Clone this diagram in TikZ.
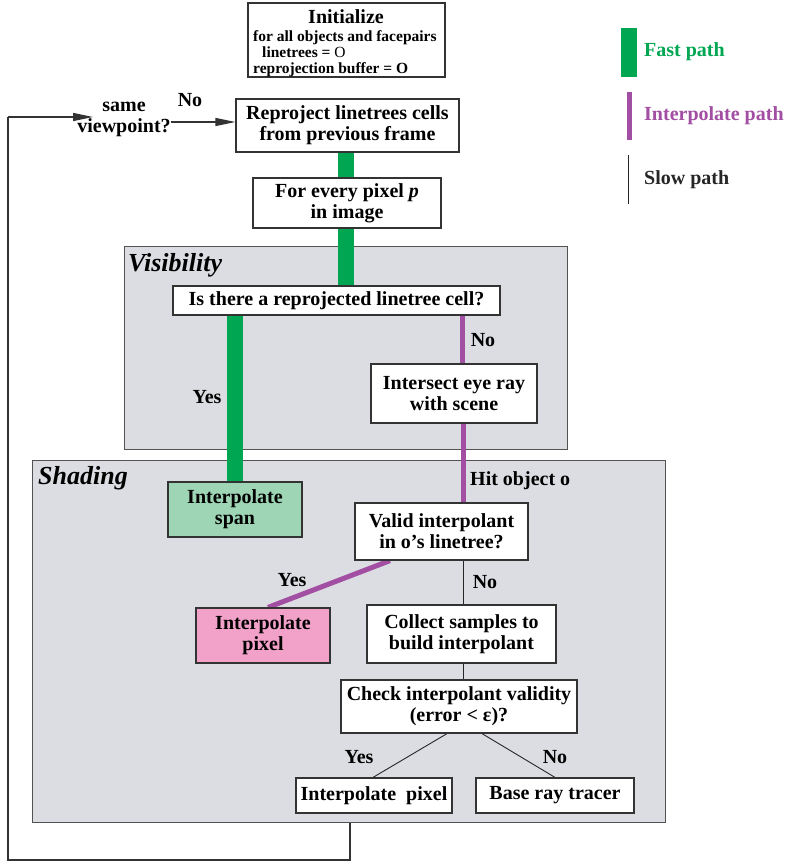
\documentclass[tikz,border=0pt]{standalone}
\usepackage{fontspec}
\setmainfont{Liberation Serif}
\usetikzlibrary{arrows.meta,calc}
\pgfdeclarelayer{back}\pgfdeclarelayer{mid}
\pgfsetlayers{back,mid,main}
\definecolor{fastg}{HTML}{00A651}
\definecolor{interp}{HTML}{A24EA2}
\definecolor{regfill}{HTML}{DCDDE2}
\definecolor{spanfill}{HTML}{9DD5B5}
\definecolor{pixfill}{HTML}{F2A1C8}
\definecolor{edge}{HTML}{333333}
\begin{document}
\begin{tikzpicture}[x=1pt,y=-1pt,
 box/.style={draw=edge,line width=1.2pt,fill=white,align=center,inner sep=0pt,font=\fontsize{20}{21}\selectfont\bfseries},
 lbl/.style={inner sep=0pt,font=\fontsize{20}{21}\selectfont\bfseries},
 reglbl/.style={inner sep=0pt,anchor=west,font=\fontsize{26}{28}\selectfont\bfseries\itshape},
 region/.style={draw=edge!85,line width=1pt,fill=regfill,inner sep=0pt,anchor=north west},
 fast/.style={fastg,line width=16pt},
 ipath/.style={interp,line width=5pt},
 slow/.style={black!85,line width=0.9pt},
 loopln/.style={edge,line width=1.3pt},
 tip/.style={-{Triangle[length=20pt,width=8pt]}}]
\useasboundingbox (0,0) rectangle (787,862);

% regions
\begin{pgfonlayer}{back}
\node[region,minimum width=443pt,minimum height=203pt] (vis) at (124,246) {};
\node[region,minimum width=633pt,minimum height=362pt] (shade) at (32,460) {};
\end{pgfonlayer}
\node[reglbl] (vislbl) at (128,265) {Visibility};
\node[reglbl] (shlbl) at (38,478) {Shading};

% boxes
\node[box,minimum width=197pt,minimum height=74pt] (init) at (346.5,40) {};
\node[lbl,font=\fontsize{20}{21}\selectfont\bfseries] (inittitle) at (346,17) {Initialize};
\node[lbl,anchor=north west,align=left,font=\fontsize{15.5}{16.2}\selectfont\bfseries] (inittext) at (253,30)
  {for all objects and facepairs\\\hspace*{9pt}linetrees = \textmd{O}\\reprojection buffer = O};
\node[box,minimum width=223pt,minimum height=53pt] (reproj) at (347.5,125.5) {Reproject linetrees cells\\from previous frame};
\node[box,minimum width=188pt,minimum height=50pt] (pixel) at (347,203) {For every pixel \textit{p}\\in image};
\node[box,minimum width=327pt,minimum height=29pt] (isthere) at (336.5,300.5) {Is there a reprojected linetree cell?};
\node[box,minimum width=166pt,minimum height=59pt] (intersect) at (454,393.5) {Intersect eye ray\\with scene};
\node[box,fill=spanfill,minimum width=134pt,minimum height=55pt] (span) at (235,509.5) {Interpolate\\span};
\node[box,minimum width=173pt,minimum height=57pt] (valid) at (441.5,531.5) {Valid interpolant\\in o’s linetree?};
\node[box,fill=pixfill,minimum width=134pt,minimum height=55pt] (ipix) at (263,635.5) {Interpolate\\pixel};
\node[box,minimum width=189pt,minimum height=58pt] (collect) at (461.5,634) {Collect samples to\\build interpolant};
\node[box,minimum width=236pt,minimum height=53pt] (check) at (459,706.5) {Check interpolant validity\\(error < ε)?};
\node[box,minimum width=156pt,minimum height=35pt] (ipix2) at (374,795.5) {Interpolate\ \ pixel};
\node[box,minimum width=158pt,minimum height=35pt] (base) at (555,795.5) {Base ray tracer};

\node[lbl,align=center] (same) at (124,119) {same\\viewpoint?};

% helper coordinates
\coordinate (xf) at (346,0);
\coordinate (xs) at (235,0);
\coordinate (xp1) at (462,0);
\coordinate (xp2) at (463,0);
\coordinate (xd1) at (390,0);
\coordinate (xd2) at (268,0);
\coordinate (xc1) at (447,0);
\coordinate (xc2) at (373,0);
\coordinate (xc3) at (482,0);
\coordinate (xc4) at (555,0);
\coordinate (c1) at (350,860);
\coordinate (c2) at (8,860);
\coordinate (c3) at (8,117);
\coordinate (c4) at (93,117);
\coordinate (c5) at (171,122);

\begin{pgfonlayer}{mid}
% fast path
\draw[fast] (reproj.south -| xf) -- (pixel.north -| xf);
\draw[fast] (pixel.south -| xf) -- (isthere.north -| xf);
\draw[fast] (isthere.south -| xs) -- (span.north -| xs);
% interpolate path
\draw[ipath] (isthere.south -| xp1) -- (intersect.north -| xp1);
\draw[ipath] (intersect.south -| xp2) -- (valid.north -| xp2);
\draw[ipath] (valid.south -| xd1) -- (ipix.north -| xd2);
% slow path
\draw[slow] (valid.south -| xp2) -- (collect.north -| xp2);
\draw[slow] (collect.south -| xp2) -- (check.north -| xp2);
\draw[slow] (check.south -| xc1) -- (ipix2.north -| xc2);
\draw[slow] (check.south -| xc3) -- (ipix2.north -| xc4);
% feedback loop
\draw[loopln] (shade.south -| c1) -- (c1) -- (c2) -- (c3);
\draw[loopln,tip] (c3) -- (c4);
\draw[loopln,tip] (c5) -- (c5 -| reproj.west);
\end{pgfonlayer}

% edge labels
\node[lbl] (lno0) at (190,100) {No};
\node[lbl] (lno1) at (483,340) {No};
\node[lbl] (lyes1) at (207,397) {Yes};
\node[lbl,anchor=west] (lhit) at (470,481) {Hit object o};
\node[lbl] (lyes2) at (292,580) {Yes};
\node[lbl] (lno2) at (485,582) {No};
\node[lbl] (lyes3) at (359,757) {Yes};
\node[lbl] (lno3) at (555,757) {No};

% legend
\coordinate (g1) at (629,28); \coordinate (g2) at (629,77);
\coordinate (p1) at (629,92); \coordinate (p2) at (629,140);
\coordinate (s1) at (628,155); \coordinate (s2) at (628,204);
\draw[fast] (g1) -- (g2);
\draw[ipath] (p1) -- (p2);
\draw[slow] (s1) -- (s2);
\node[lbl,anchor=west,text=fastg] (lfast) at (644,52) {Fast path};
\node[lbl,anchor=west,text=interp] (linterp) at (644,116) {Interpolate path};
\node[lbl,anchor=west,text=black!85] (lslow) at (644,180) {Slow path};
\end{tikzpicture}
\end{document}
